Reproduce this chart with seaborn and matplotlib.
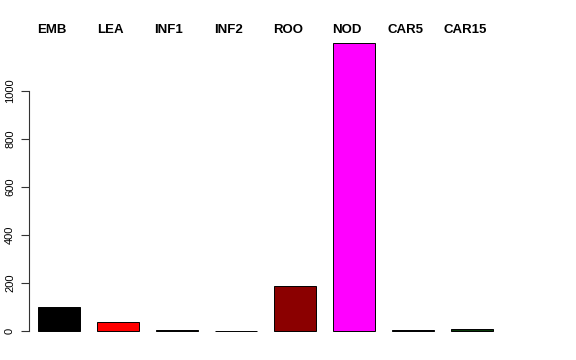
import matplotlib
matplotlib.use("Agg")
import matplotlib.pyplot as plt
import seaborn as sns
import pandas as pd

tissues = ["EMB", "LEA", "INF1", "INF2", "ROO", "NOD", "CAR5", "CAR15"]
values = [100, 38, 3, 2, 186, 1200, 3, 9]
colors = ["#000000", "#ff0000", "#4d5a4a", "#8a8aa0", "#8b0000", "#ff00ff", "#404060", "#0a3a0a"]
yticks = [0, 200, 400, 600, 800, 1000]

sns.set_style("white")
plt.rcParams['font.family'] = ['Liberation Sans', 'DejaVu Sans']

W, H = 576, 360
fig = plt.figure(figsize=(W / 100, H / 100), dpi=100)
left, right, top, bottom = 29, 505, 40, 340
ax = fig.add_axes([left / W, 1 - bottom / H, (right - left) / W, (bottom - top) / H])

df = pd.DataFrame({"tissue": tissues, "value": values})
sns.barplot(data=df, x="tissue", y="value", hue="tissue", palette=colors,
            saturation=1, width=0.712, edgecolor="black", linewidth=0.7,
            legend=False, ax=ax)

ax.set_xlim((left - 59) / 59, (right - 59) / 59)
ax.set_ylim(-9 / 0.24, (331 - top) / 0.24)
ax.set_xticks([])
ax.set_xlabel("")
ax.set_ylabel("")
for s in ["top", "right", "bottom"]:
    ax.spines[s].set_visible(False)
ax.spines["left"].set_bounds(0, 1000)
ax.spines["left"].set_color("#333333")
ax.spines["left"].set_linewidth(0.8)
ax.set_yticks(yticks)
ax.set_yticklabels([str(t) for t in yticks], rotation=90, va="center",
                   fontsize=8, color="black")
ax.tick_params(axis="y", left=True, length=6, width=0.8, color="#333333", pad=4)

label_x = [37, 97, 154, 214, 273, 332, 387, 443]
for t, lx in zip(tissues, label_x):
    fig.text(lx / W, 1 - 30 / H, t, ha="left", va="center", fontsize=9.5,
             fontweight="bold", color="black")

fig.savefig("out.png", dpi=100)
